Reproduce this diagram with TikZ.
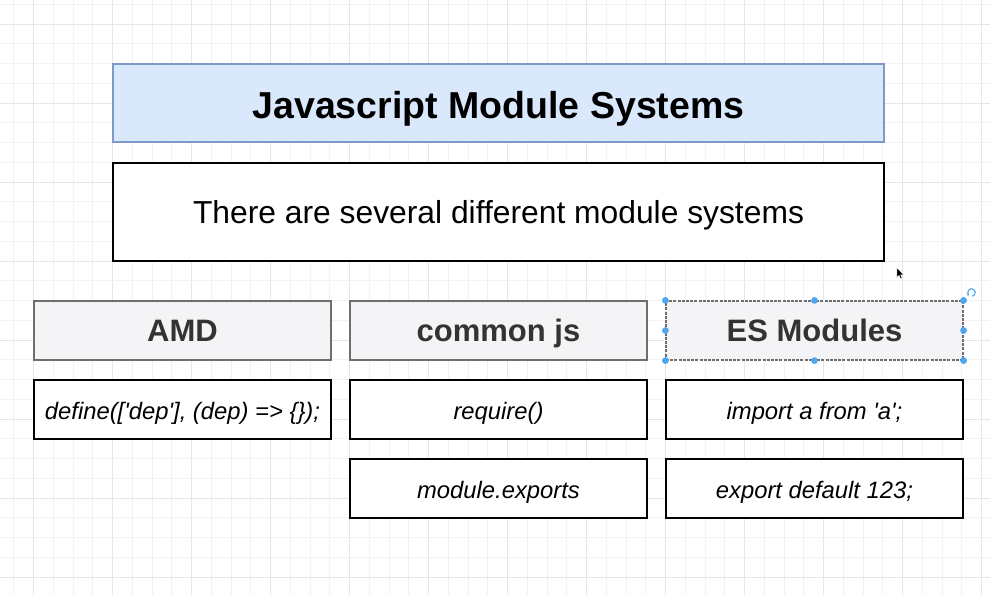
\documentclass[tikz,border=0pt]{standalone}
\usepackage{fontspec}
\setmainfont{Liberation Sans}
\usetikzlibrary{arrows.meta}
\definecolor{titlefill}{HTML}{DAE8FC}
\definecolor{titleborder}{HTML}{7C99C9}
\definecolor{headfill}{HTML}{F4F4F6}
\definecolor{headborder}{HTML}{6E6E6E}
\definecolor{headtext}{HTML}{333333}
\definecolor{handlecol}{HTML}{4DA6F0}
\definecolor{gridminorc}{HTML}{F2F2F2}
\definecolor{gridmajorc}{HTML}{E6E6E6}
\newcommand{\sq}{\textquotesingle}
\begin{document}
\begin{tikzpicture}[x=1pt,y=-1pt,
  gridminor/.style={draw=gridminorc, line width=0.7pt},
  gridmajor/.style={draw=gridmajorc, line width=0.9pt},
  titlebox/.style={draw=titleborder, fill=titlefill, line width=1.6pt, minimum width=771, minimum height=78, inner sep=0pt, text height=36pt, text depth=5.4pt, font=\fontsize{37.5}{40}\selectfont\bfseries},
  subbox/.style={draw=black, fill=white, line width=1.8pt, minimum width=771, minimum height=98, inner sep=0pt, text height=27pt, text depth=5pt, font=\fontsize{31.8}{36}\selectfont},
  headbox/.style={draw=headborder, fill=headfill, line width=1.5pt, minimum width=297, minimum height=59, inner sep=0pt, text height=26pt, text depth=5pt, text=headtext, font=\fontsize{31}{34}\selectfont\bfseries},
  codebox/.style={draw=black, fill=white, line width=1.8pt, minimum width=297, minimum height=59, inner sep=0pt, text height=24pt, text depth=4pt, font=\fontsize{23.8}{26}\selectfont\itshape},
  handle/.style={fill=handlecol},
]
\useasboundingbox (0,0) rectangle (990,595);
\fill[white] (0,0) rectangle (990,595);
% grid
\foreach \k in {0,...,49}{
  \pgfmathsetmacro\xx{13.75+19.75*\k}
  \pgfmathtruncatemacro\m{mod(\k,4)}
  \ifnum\m=1 \draw[gridmajor] (\xx,0) -- (\xx,595); \else \draw[gridminor] (\xx,0) -- (\xx,595); \fi
}
\foreach \k in {0,...,30}{
  \pgfmathsetmacro\yy{4.25+19.75*\k}
  \pgfmathtruncatemacro\m{mod(\k,4)}
  \ifnum\m=1 \draw[gridmajor] (0,\yy) -- (990,\yy); \else \draw[gridminor] (0,\yy) -- (990,\yy); \fi
}
% boxes
\node[titlebox] (title) at (498.5,103) {Javascript Module Systems};
\node[subbox] (sub) at (498.5,212) {There are several different module systems};
\node[headbox] (amd) at (182.5,330.5) {AMD};
\node[headbox] (cjs) at (498.5,330.5) {common js};
\node[headbox, dash pattern=on 3pt off 1.2pt, line width=1.2pt] (es) at (814.5,330.5) {ES Modules};
\node[codebox] (amdc) at (182.5,409.5) {define([\sq dep\sq], (dep) => \{\});};
\node[codebox] (cjsr) at (498.5,409.5) {require()};
\node[codebox] (cjse) at (498.5,488.5) {module.exports};
\node[codebox] (esi) at (814.5,409.5) {import a from \sq a\sq;};
\node[codebox] (ese) at (814.5,488.5) {export default 123;};
% selection handles
\foreach \a in {north west,north,north east,east,south east,south,south west,west}
  \fill[handle] (es.\a) circle (3.4);
\coordinate (rot) at (971.5,292.5);
\draw[handlecol, line width=1.1pt, -{Stealth[length=2.2pt,width=3pt]}] (rot) ++(80:3.8) arc (80:-230:3.8);
% mouse cursor
\coordinate (cur) at (896.8,267.5);
\filldraw[black, draw=white, line width=0.4pt] (cur) -- ++(0,10) -- ++(2.3,-2.1) -- ++(1.6,3.4) -- ++(1.4,-0.6) -- ++(-1.5,-3.3) -- ++(3.1,0) -- cycle;
\end{tikzpicture}
\end{document}
